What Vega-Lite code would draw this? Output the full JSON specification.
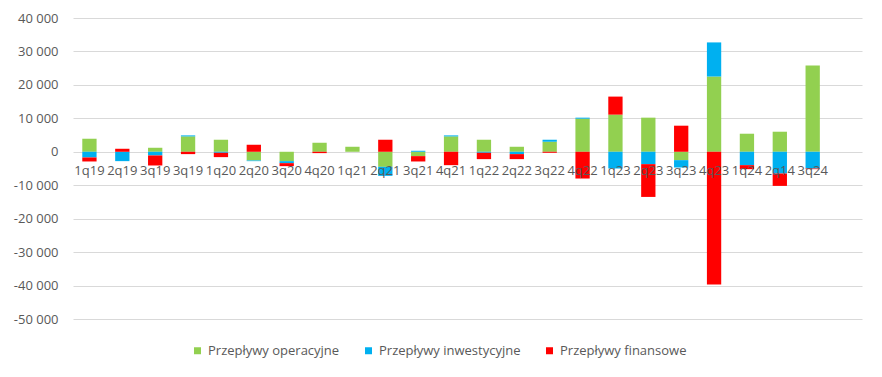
{
  "$schema": "https://vega.github.io/schema/vega-lite/v6.json",
  "autosize": {"type": "none"},
  "width": 789,
  "height": 301,
  "padding": {"left": 73, "top": 18, "right": 20, "bottom": 58},
  "background": "white",
  "config": {
    "view": {"stroke": null},
    "font": "Open Sans"
  },
  "data": {"values": [
    {"i": 0, "s": "Przepływy operacyjne", "v": 3900},
    {"i": 0, "s": "Przepływy inwestycyjne", "v": -1700},
    {"i": 0, "s": "Przepływy finansowe", "v": -1200},
    {"i": 1, "s": "Przepływy operacyjne", "v": 0},
    {"i": 1, "s": "Przepływy inwestycyjne", "v": -2800},
    {"i": 1, "s": "Przepływy finansowe", "v": 900},
    {"i": 2, "s": "Przepływy operacyjne", "v": 1200},
    {"i": 2, "s": "Przepływy inwestycyjne", "v": -1100},
    {"i": 2, "s": "Przepływy finansowe", "v": -3000},
    {"i": 3, "s": "Przepływy operacyjne", "v": 4600},
    {"i": 3, "s": "Przepływy inwestycyjne", "v": 300},
    {"i": 3, "s": "Przepływy finansowe", "v": -700},
    {"i": 4, "s": "Przepływy operacyjne", "v": 3600},
    {"i": 4, "s": "Przepływy inwestycyjne", "v": -300},
    {"i": 4, "s": "Przepływy finansowe", "v": -1300},
    {"i": 5, "s": "Przepływy operacyjne", "v": -2600},
    {"i": 5, "s": "Przepływy inwestycyjne", "v": -200},
    {"i": 5, "s": "Przepływy finansowe", "v": 2100},
    {"i": 6, "s": "Przepływy operacyjne", "v": -2800},
    {"i": 6, "s": "Przepływy inwestycyjne", "v": -600},
    {"i": 6, "s": "Przepływy finansowe", "v": -900},
    {"i": 7, "s": "Przepływy operacyjne", "v": 2700},
    {"i": 7, "s": "Przepływy inwestycyjne", "v": 0},
    {"i": 7, "s": "Przepływy finansowe", "v": -400},
    {"i": 8, "s": "Przepływy operacyjne", "v": 1500},
    {"i": 8, "s": "Przepływy inwestycyjne", "v": 0},
    {"i": 8, "s": "Przepływy finansowe", "v": 0},
    {"i": 9, "s": "Przepływy operacyjne", "v": -4500},
    {"i": 9, "s": "Przepływy inwestycyjne", "v": -2700},
    {"i": 9, "s": "Przepływy finansowe", "v": 3600},
    {"i": 10, "s": "Przepływy operacyjne", "v": -1300},
    {"i": 10, "s": "Przepływy inwestycyjne", "v": 300},
    {"i": 10, "s": "Przepływy finansowe", "v": -1600},
    {"i": 11, "s": "Przepływy operacyjne", "v": 4600},
    {"i": 11, "s": "Przepływy inwestycyjne", "v": 300},
    {"i": 11, "s": "Przepływy finansowe", "v": -4000},
    {"i": 12, "s": "Przepływy operacyjne", "v": 3600},
    {"i": 12, "s": "Przepływy inwestycyjne", "v": -300},
    {"i": 12, "s": "Przepływy finansowe", "v": -1900},
    {"i": 13, "s": "Przepływy operacyjne", "v": 1500},
    {"i": 13, "s": "Przepływy inwestycyjne", "v": -700},
    {"i": 13, "s": "Przepływy finansowe", "v": -1500},
    {"i": 14, "s": "Przepływy operacyjne", "v": 3000},
    {"i": 14, "s": "Przepływy inwestycyjne", "v": 600},
    {"i": 14, "s": "Przepływy finansowe", "v": -300},
    {"i": 15, "s": "Przepływy operacyjne", "v": 9900},
    {"i": 15, "s": "Przepływy inwestycyjne", "v": 300},
    {"i": 15, "s": "Przepływy finansowe", "v": -8000},
    {"i": 16, "s": "Przepływy operacyjne", "v": 11100},
    {"i": 16, "s": "Przepływy inwestycyjne", "v": -5000},
    {"i": 16, "s": "Przepływy finansowe", "v": 5400},
    {"i": 17, "s": "Przepływy operacyjne", "v": 10200},
    {"i": 17, "s": "Przepływy inwestycyjne", "v": -3700},
    {"i": 17, "s": "Przepływy finansowe", "v": -9800},
    {"i": 18, "s": "Przepływy operacyjne", "v": -2500},
    {"i": 18, "s": "Przepływy inwestycyjne", "v": -2200},
    {"i": 18, "s": "Przepływy finansowe", "v": 7800},
    {"i": 19, "s": "Przepływy operacyjne", "v": 22500},
    {"i": 19, "s": "Przepływy inwestycyjne", "v": 10200},
    {"i": 19, "s": "Przepływy finansowe", "v": -39700},
    {"i": 20, "s": "Przepływy operacyjne", "v": 5400},
    {"i": 20, "s": "Przepływy inwestycyjne", "v": -4000},
    {"i": 20, "s": "Przepływy finansowe", "v": -1200},
    {"i": 21, "s": "Przepływy operacyjne", "v": 6000},
    {"i": 21, "s": "Przepływy inwestycyjne", "v": -6500},
    {"i": 21, "s": "Przepływy finansowe", "v": -3700},
    {"i": 22, "s": "Przepływy operacyjne", "v": 25800},
    {"i": 22, "s": "Przepływy inwestycyjne", "v": -5000},
    {"i": 22, "s": "Przepływy finansowe", "v": -200}
  ]},
  "mark": {"type": "bar"},
  "encoding": {
    "x": {
      "field": "i", "type": "ordinal",
      "scale": {"domain": [0,1,2,3,4,5,6,7,8,9,10,11,12,13,14,15,16,17,18,19,20,21,22,23], "paddingInner": 0.565, "paddingOuter": 0.2825},
      "axis": {
        "title": null, "domain": false, "ticks": false, "grid": false,
        "labelAngle": 0, "offset": -167, "zindex": 1,
        "labelPadding": 12, "labelFontSize": 13, "labelColor": "#595959", "labelFont": "Open Sans",
        "labelExpr": "['1q19','2q19','3q19','3q19','1q20','2q20','3q20','4q20','1q21','2q21','3q21','4q21','1q22','2q22','3q22','4q22','1q23','2q23','3q23','4q23','1q24','2q14','3q24',''][datum.value]"
      }
    },
    "y": {
      "field": "v", "type": "quantitative", "stack": "zero",
      "scale": {"domain": [-50000, 40000], "nice": false},
      "axis": {
        "title": null, "domain": false, "ticks": false,
        "values": [-50000,-40000,-30000,-20000,-10000,0,10000,20000,30000,40000],
        "labelExpr": "replace(replace(format(datum.value, ','), ',', ' '), '\u2212', '-')",
        "labelFontSize": 13, "labelColor": "#595959", "labelPadding": 15,
        "gridColor": "#D9D9D9", "gridWidth": 1
      }
    },
    "color": {
      "field": "s", "type": "nominal",
      "scale": {"domain": ["Przepływy operacyjne", "Przepływy inwestycyjne", "Przepływy finansowe"], "range": ["#92D050", "#00B0F0", "#FF0000"]},
      "legend": {
        "title": null, "orient": "none", "direction": "horizontal",
        "legendX": 118, "legendY": 326,
        "symbolType": "square", "symbolSize": 49, "symbolStrokeWidth": 0,
        "labelFontSize": 13, "labelColor": "#595959", "labelOffset": 4, "columnPadding": 22
      }
    },
    "order": {"field": "s", "sort": "descending"}
  }
}
